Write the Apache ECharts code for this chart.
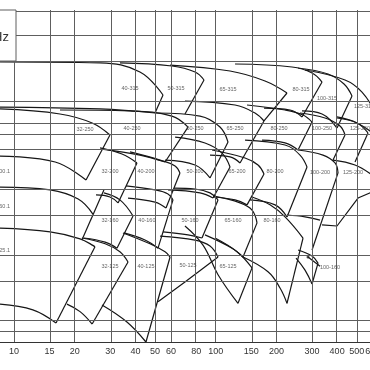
<!DOCTYPE html>
<html>
<head>
<meta charset="utf-8">
<script src="https://cdn.jsdelivr.net/npm/echarts@6/dist/echarts.min.js"></script>
<style>
html, body { margin: 0; padding: 0; background: #fff; }
#chart { width: 370px; height: 370px; }
</style>
</head>
<body>
<div id="chart"></div>
<script>
// flow Q (m3/h) grid + tick labels, head H (m) grid
const qTicks = [10, 15, 20, 30, 40, 50, 60, 80, 100, 150, 200, 300, 400, 500, 600];
const hLines = [8, 9, 10, 15, 20, 30, 40, 60, 70, 80, 100, 150, 200];
const qEdge = [8.52, 820];
const hEdge = [8, 260];

// pump fields: top = max impeller curve, bottom = min impeller curve, side = flow limit
const row315 = [
    { name: '40-315', at: [37.6, 113.6],
      top: [[8.52, 150.7], [26.7, 149.2], [42.1, 135.7], [54.8, 106.6]],
      side: [[54.8, 106.6], [50.0, 88.3]],
      bottom: [[8.52, 94.0], [26.7, 92.1], [50.0, 88.3]] },
    { name: '50-315', at: [63.6, 113.6],
      top: [[33.5, 149.2], [60.7, 144.5], [79.0, 135.7], [87.5, 124.8]],
      side: [[87.5, 124.8], [70.4, 87.4]],
      bottom: [] },
    { name: '65-315', at: [115.1, 112.4],
      top: [[59.4, 146.0], [117.8, 137.1], [175.6, 123.5], [225.7, 108.9]],
      side: [[225.7, 108.9], [173.6, 81.2]],
      bottom: [] },
    { name: '80-315', at: [264.8, 112.4],
      top: [[124.7, 147.6], [239.0, 143.0], [300.4, 134.3], [336.7, 122.2]],
      side: [[336.7, 122.2], [267.9, 84.7]],
      bottom: [[173.6, 93.0], [233.6, 91.1], [267.9, 84.7]] },
    { name: '100-315', at: [356.3, 103.3],
      top: [[256.0, 141.5], [360.5, 132.9], [432.7, 119.7], [474.1, 105.5]],
      side: [[474.1, 105.5], [399.5, 75.4]],
      bottom: [[267.9, 90.2], [336.7, 87.4], [399.5, 75.4]] },
    { name: '125-315', at: [543.6, 95.0],
      top: [[277.3, 138.6], [437.7, 124.8], [531.4, 110.0], [616.5, 89.2]],
      side: [],
      bottom: [[399.5, 84.7], [502.1, 79.5], [616.5, 70.1]] }
];

const row250 = [
    { name: '32-250', at: [22.5, 73.9],
      top: [[8.52, 92.1], [16.9, 87.4], [24.4, 79.5], [29.9, 70.1]],
      side: [[29.9, 70.1], [22.75, 43.7]],
      bottom: [[8.52, 56.2], [16.0, 52.8], [22.75, 43.7]] },
    { name: '40-250', at: [38.5, 74.7],
      top: [[16.9, 91.1], [37.6, 90.2], [60.7, 85.5], [72.9, 76.2]],
      side: [[72.9, 76.2], [56.1, 52.8]],
      bottom: [[27.3, 60.5], [42.1, 56.8], [56.1, 52.8]] },
    { name: '50-250', at: [79.0, 74.7],
      top: [[50.6, 88.3], [83.6, 85.5], [105.0, 76.2], [115.1, 65.1]],
      side: [[115.1, 65.1], [93.7, 44.7]],
      bottom: [[56.1, 53.9], [79.0, 51.2], [93.7, 44.7]] },
    { name: '65-250', at: [124.7, 74.7],
      top: [[70.4, 100.1], [124.7, 96.0], [156.6, 88.3], [173.6, 81.2]],
      side: [[173.6, 81.2], [132.0, 52.3]],
      bottom: [[93.7, 56.8], [117.8, 55.7], [132.0, 52.3]] },
    { name: '80-250', at: [206.0, 74.7],
      top: [[143.0, 96.0], [220.7, 91.1], [271.0, 86.5], [300.4, 80.3]],
      side: [[300.4, 80.3], [256.0, 59.9]],
      bottom: [[169.7, 66.5], [220.7, 64.5], [256.0, 59.9]] },
    { name: '100-250', at: [336.7, 74.7],
      top: [[261.8, 88.3], [348.3, 83.8], [413.4, 77.0], [437.7, 70.1]],
      side: [[437.7, 70.1], [381.7, 53.9]],
      bottom: [] },
    { name: '125-250', at: [519.4, 74.7],
      top: [[399.5, 83.8], [502.1, 79.5], [569.1, 71.6]],
      side: [[569.1, 71.6], [490.7, 52.8]],
      bottom: [] }
];

const row200 = [
    { name: '32-200.1', at: [9.55, 47.6], edge: true, top: [], side: [], bottom: [] },
    { name: '32-200', at: [29.9, 47.6],
      top: [[26.7, 61.2], [34.3, 57.4], [40.7, 52.3]],
      side: [[40.7, 52.3], [32.8, 34.4]],
      bottom: [[25.5, 37.4], [29.9, 36.6], [32.8, 34.4]] },
    { name: '40-200', at: [45.1, 47.6],
      top: [[37.6, 58.7], [53.0, 53.9], [62.9, 50.7], [66.5, 47.1]],
      side: [[66.5, 47.1], [56.7, 32.6]],
      bottom: [[36.75, 36.2], [50.0, 34.7], [56.7, 32.6]] },
    { name: '50-200', at: [79.0, 47.6],
      top: [[62.9, 68.6], [88.5, 64.5], [107.5, 58.0], [117.8, 50.1]],
      side: [[117.8, 50.1], [97.0, 36.2]],
      bottom: [[58.0, 39.4], [83.6, 38.2], [97.0, 36.2]] },
    { name: '65-200', at: [127.6, 47.6],
      top: [[95.9, 59.9], [139.8, 55.1], [162.1, 51.2], [173.6, 46.6]],
      side: [[173.6, 46.6], [143.0, 33.7]],
      bottom: [[97.0, 36.6], [124.7, 35.5], [143.0, 33.7]] },
    { name: '80-200', at: [196.9, 47.6],
      top: [[139.8, 66.5], [220.7, 63.1], [261.8, 56.8], [283.7, 50.1]],
      side: [[283.7, 50.1], [225.7, 29.7]],
      bottom: [[148.0, 35.5], [196.9, 33.7], [225.7, 29.7]] },
    { name: '100-200', at: [329.1, 47.1],
      top: [[256.0, 59.9], [340.4, 56.8], [390.5, 52.3], [404.1, 47.1]],
      side: [[404.1, 47.1], [300.4, 21.0]],
      bottom: [[225.7, 30.3], [277.3, 29.7], [329.1, 28.7]] },
    { name: '125-200', at: [479.5, 47.1],
      top: [[381.7, 53.9], [490.7, 51.2], [595.7, 46.1]],
      side: [[336.7, 27.3], [399.5, 27.0], [507.7, 36.2], [595.7, 38.6]],
      bottom: [] }
];

const row160 = [
    { name: '32-160.1', at: [9.55, 33.3], edge: true,
      top: [[8.52, 40.6], [15.1, 39.4], [20.8, 35.8], [24.6, 30.6]],
      side: [[27.9, 39.4], [21.7, 23.3]],
      bottom: [] },
    { name: '32-160', at: [29.9, 28.5],
      top: [[27.9, 38.2], [33.5, 35.5], [38.9, 30.0]],
      side: [[38.9, 30.0], [32.4, 21.4]],
      bottom: [[22.2, 23.8], [28.3, 22.8], [32.4, 21.4]] },
    { name: '40-160', at: [45.6, 28.5],
      top: [[35.9, 41.1], [50.0, 39.4], [58.0, 37.8], [61.4, 35.5]],
      side: [[61.4, 35.5], [51.75, 21.4]],
      bottom: [[35.1, 25.1], [44.6, 23.3], [51.75, 21.4]] },
    { name: '50-160', at: [74.6, 28.5],
      top: [[62.1, 40.2], [79.0, 39.8], [93.7, 38.2], [102.7, 35.5]],
      side: [[102.7, 35.5], [85.5, 23.8]],
      bottom: [[54.8, 25.4], [72.9, 24.6], [85.5, 23.8]] },
    { name: '65-160', at: [121.8, 28.5],
      top: [[97.0, 37.0], [132.0, 34.4], [151.4, 31.9], [160.3, 27.9]],
      side: [[160.3, 27.9], [136.6, 19.5]],
      bottom: [[88.5, 24.6], [120.5, 21.4], [136.6, 19.5]] },
    { name: '80-160', at: [190.2, 28.5],
      top: [[151.4, 36.6], [185.9, 33.7], [220.7, 29.7], [271.0, 23.8]],
      side: [[271.0, 23.8], [225.7, 12.0]],
      bottom: [[136.6, 19.5], [181.7, 16.7], [208.4, 14.1], [225.7, 12.0]] },
    { name: '100-160', at: [368.7, 17.4],
      top: [[256.0, 21.0], [300.4, 19.7], [321.6, 18.3]],
      side: [[321.6, 18.3], [300.4, 14.7]],
      bottom: [[250.2, 19.3], [277.3, 17.0], [300.4, 14.7]] }
];

const row125 = [
    { name: '32-125.1', at: [9.55, 20.8], edge: true,
      top: [[8.52, 26.4], [15.1, 25.4], [21.25, 23.6], [25.2, 21.7]],
      side: [[25.2, 21.7], [16.15, 9.76]],
      bottom: [[8.52, 11.9], [12.4, 11.2], [16.15, 9.76]] },
    { name: '32-125', at: [29.9, 17.6],
      top: [[21.7, 23.8], [28.3, 22.4], [33.5, 20.6], [36.75, 18.5]],
      side: [[36.75, 18.5], [24.4, 9.66]],
      bottom: [[18.3, 11.9], [21.25, 11.0], [24.4, 9.66]] },
    { name: '40-125', at: [45.1, 17.6],
      top: [[34.7, 25.1], [47.2, 22.4], [56.1, 20.6], [59.4, 19.5]],
      side: [[59.4, 19.5], [45.1, 8.0]],
      bottom: [[27.3, 11.8], [36.3, 9.87], [45.1, 8.0]] },
    { name: '50-125', at: [72.9, 17.8],
      top: [[53.0, 24.3], [79.0, 23.3], [93.7, 21.9], [102.7, 19.5]],
      side: [[102.7, 19.5], [70.4, 15.0], [51.75, 12.2]],
      bottom: [] },
    { name: '65-125', at: [115.1, 17.6],
      top: [[99.2, 23.8], [127.6, 20.6], [151.4, 17.4]],
      side: [[151.4, 17.4], [129.0, 12.0]],
      bottom: [[70.4, 27.0], [86.5, 22.1], [102.7, 16.2], [129.0, 12.0]] }
];

// pointer from the 100-160 field to its label
const pointer100160 = [[286.9, 19.5], [329.1, 17.7]];

const lg = v => Math.log10(v);
const pt = p => [lg(p[0]), lg(p[1])];
const textFont = 'Liberation Sans, Arial, sans-serif';

let series = [];

// grid lines
series.push({
    type: 'line',
    data: [],
    silent: true,
    z: 1,
    markLine: {
        symbol: 'none',
        silent: true,
        animation: false,
        label: { show: false },
        lineStyle: { color: '#5e5e5e', width: 1, type: 'solid' },
        data: [
            ...qTicks.map(v => ({ xAxis: lg(v) })),
            ...hLines.map(v => ({ yAxis: lg(v) })),
            { yAxis: lg(hEdge[1]) }
        ]
    }
});

const addCurve = (points, smooth) => {
    if (!points || points.length < 2) return;
    series.push({
        type: 'line',
        data: points.map(pt),
        smooth: smooth ? 0.4 : false,
        symbol: 'none',
        silent: true,
        animation: false,
        z: 3,
        lineStyle: { color: '#161616', width: 1.2 }
    });
};

const rows = [row315, row250, row200, row160, row125];
rows.forEach(row => row.forEach(p => {
    addCurve(p.top, true);
    addCurve(p.bottom, true);
    addCurve(p.side, false);
}));
addCurve(pointer100160, false);

series.push({
    type: 'scatter',
    data: [pt(pointer100160[0])],
    symbolSize: 3,
    silent: true,
    animation: false,
    z: 4,
    itemStyle: { color: '#1e1e1e' }
});

// field names
series.push({
    type: 'scatter',
    symbolSize: 0,
    silent: true,
    animation: false,
    z: 5,
    data: rows.flat().map(p => ({
        name: p.name,
        value: pt(p.at),
        label: p.edge ? { position: 'left', distance: 0 } : { position: 'inside' }
    })),
    label: {
        show: true,
        formatter: '{b}',
        fontSize: 5.5,
        color: '#3a3a3a',
        fontFamily: textFont
    }
});

const chart = echarts.init(document.getElementById('chart'), null, { renderer: 'canvas' });
chart.setOption({
    animation: false,
    backgroundColor: '#fff',
    grid: { left: 0, right: -30, top: 10, bottom: 28, containLabel: false, outerBoundsMode: 'none' },
    xAxis: {
        type: 'value',
        min: lg(qEdge[0]),
        max: lg(qEdge[1]),
        axisLine: { show: true, lineStyle: { color: '#333', width: 1 } },
        axisTick: { show: false },
        splitLine: { show: false },
        axisLabel: {
            customValues: qTicks.map(lg),
            formatter: v => String(Math.round(Math.pow(10, v))),
            fontSize: 9,
            margin: 5,
            hideOverlap: false,
            color: '#333',
            fontFamily: textFont
        }
    },
    yAxis: {
        type: 'value',
        min: lg(hEdge[0]),
        max: lg(hEdge[1]),
        axisLine: { show: false },
        axisTick: { show: false },
        axisLabel: { show: false },
        splitLine: { show: false }
    },
    graphic: [
        {
            type: 'rect',
            z: 100,
            shape: { x: -40, y: 10, width: 56, height: 51 },
            style: { fill: '#fff', stroke: '#5e5e5e', lineWidth: 1 }
        },
        {
            type: 'text',
            z: 101,
            x: 9,
            y: 37,
            style: {
                text: '2900 1/min   50 Hz',
                align: 'right',
                verticalAlign: 'middle',
                fontSize: 13,
                fill: '#333',
                fontFamily: textFont
            }
        }
    ],
    series: series
});
</script>
</body>
</html>
